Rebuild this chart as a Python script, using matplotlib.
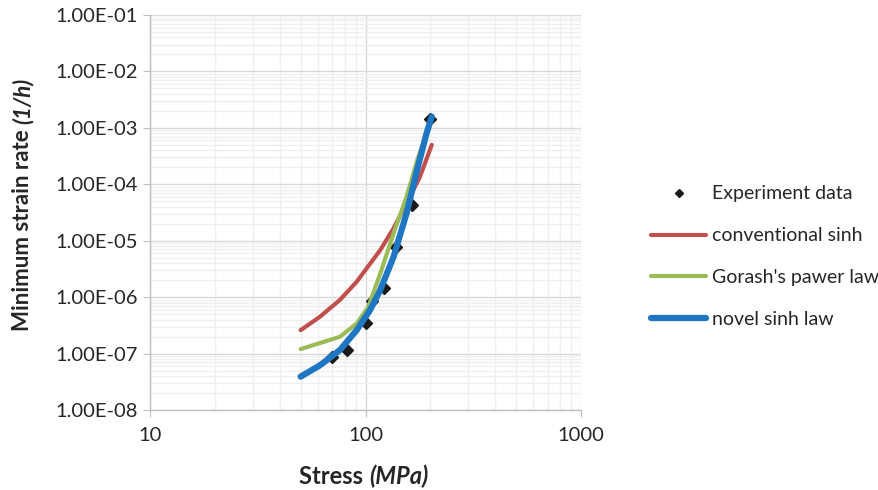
import matplotlib
matplotlib.use("Agg")
import matplotlib.pyplot as plt
from matplotlib.ticker import LogLocator, FixedLocator, NullFormatter
import numpy as np

plt.rcParams['font.family'] = ['Lato', 'DejaVu Sans']

# experiment points (stress MPa, min strain rate 1/h)
exp_stress = [70, 82, 101, 107, 122, 138, 165, 200]
exp_rate = [8.7e-8, 1.15e-7, 3.5e-7, 8.5e-7, 1.45e-6, 7.7e-6, 4.3e-5, 1.45e-3]

conv_stress = [50, 61.5, 76, 91, 101, 117, 135, 155, 179, 203]
conv_rate = [2.6e-7, 4.5e-7, 8.9e-7, 1.87e-6, 3.2e-6, 6.8e-6, 1.66e-5, 4.6e-5, 1.36e-4, 5.0e-4]

gorash_stress = [50, 76, 91, 103, 117, 135, 155, 175, 200]
gorash_rate = [1.2e-7, 1.98e-7, 3.4e-7, 6.7e-7, 2.6e-6, 1.35e-5, 6e-5, 2.9e-4, 1.2e-3]

novel_stress = [50, 61.5, 76, 91, 105, 117, 135, 155, 175, 192, 203]
novel_rate = [3.9e-8, 6.2e-8, 1.15e-7, 2.6e-7, 5.9e-7, 1.33e-6, 5.2e-6, 3.05e-5, 2.04e-4, 8e-4, 1.58e-3]

fig = plt.figure(figsize=(8.79, 4.90), dpi=100)
ax = fig.add_axes([150 / 879, 1 - 410 / 490, 431 / 879, 395 / 490])

ax.plot(exp_stress, exp_rate, 'D', color='#1a1a1a', markersize=6, linestyle='none',
        label='Experiment data', zorder=3)
ax.plot(conv_stress, conv_rate, color='#c0504d', lw=3.0, solid_capstyle='round',
        label='conventional sinh', zorder=4)
ax.plot(gorash_stress, gorash_rate, color='#9bbb59', lw=3.0, solid_capstyle='round',
        label="Gorash's pawer law", zorder=5)
ax.plot(novel_stress, novel_rate, color='#1f77c4', lw=4.5, solid_capstyle='round',
        label='novel sinh law', zorder=6)

ax.set_xscale('log')
ax.set_yscale('log')
ax.set_xlim(10, 1000)
ax.set_ylim(1e-8, 1e-1)

ax.xaxis.set_major_locator(FixedLocator([10, 100, 1000]))
ax.xaxis.set_minor_locator(LogLocator(base=10, subs=np.arange(2, 10)))
ax.xaxis.set_minor_formatter(NullFormatter())
ax.set_xticklabels(['10', '100', '1000'])

yt = [10.0 ** k for k in range(-8, 0)]
ax.yaxis.set_major_locator(FixedLocator(yt))
ax.yaxis.set_minor_locator(LogLocator(base=10, subs=np.arange(2, 10), numticks=20))
ax.yaxis.set_minor_formatter(NullFormatter())
ax.set_yticklabels(['%.2E' % v for v in yt])

ax.grid(which='major', color='#d9d9d9', lw=1.0)
ax.grid(which='minor', color='#efefef', lw=1.0)
ax.set_axisbelow(True)

for s in ['top', 'right']:
    ax.spines[s].set_visible(False)
for s in ['left', 'bottom']:
    ax.spines[s].set_color('#bfbfbf')
    ax.spines[s].set_linewidth(1.0)
ax.tick_params(which='major', length=5, color='#bfbfbf', labelsize=14.5, labelcolor='#262626')
ax.tick_params(which='minor', length=0)
ax.tick_params(axis='x', pad=7)
ax.tick_params(axis='y', pad=4)

# axis titles, italic units
fig.text(369 / 879, 1 - 476 / 490, 'Stress ', ha='right', va='center',
         fontsize=17, fontweight='bold', color='#262626')
fig.text(369 / 879, 1 - 476 / 490, '(MPa)', ha='left', va='center',
         fontsize=17, fontweight='bold', style='italic', color='#262626')
fig.text(23 / 879, 1 - 124 / 490, 'Minimum strain rate ', ha='center', va='top',
         rotation=90, fontsize=16, fontweight='bold', color='#262626')
fig.text(23 / 879, 1 - 124 / 490, '(1/h)', ha='center', va='bottom',
         rotation=90, fontsize=16, fontweight='bold', style='italic', color='#262626')

fig.legend(loc='upper left', bbox_to_anchor=(634 / 879, 1 - 168 / 490), frameon=False,
           fontsize=14, handlelength=2.8, handletextpad=0.3, labelspacing=1.28,
           markerscale=0.65, labelcolor='#262626')

fig.savefig('out.png', dpi=100)
